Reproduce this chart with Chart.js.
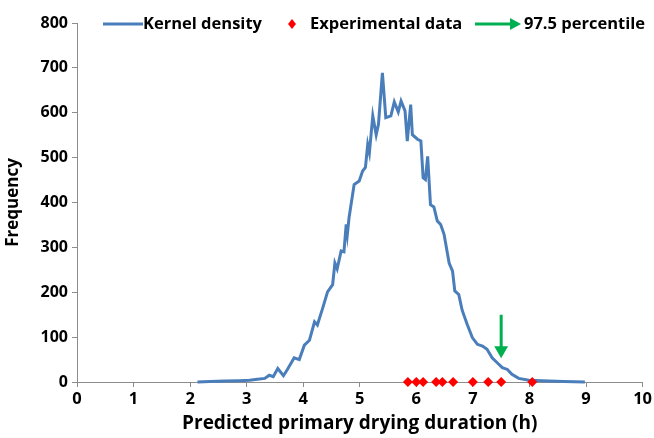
<!DOCTYPE html>
<html>
<head>
<meta charset="utf-8">
<script src="https://cdn.jsdelivr.net/npm/chart.js@4.4.1/dist/chart.umd.min.js"></script>
<style>
  html, body { margin: 0; padding: 0; background: #fff; }
  #wrap { width: 654px; height: 438px; }
</style>
</head>
<body>
<div id="wrap"><canvas id="myChart" width="654" height="438"></canvas></div>
<script>
// kernel density curve (hours, frequency)
const kdeX = [2.13, 2.35, 2.61, 2.87, 3.05, 3.19, 3.32, 3.40, 3.47, 3.55, 3.65, 3.72, 3.84, 3.93, 4.02, 4.11,
  4.20, 4.25, 4.34, 4.43, 4.52, 4.56, 4.60, 4.67, 4.72, 4.76, 4.78, 4.81, 4.90, 4.99, 5.05, 5.10, 5.14, 5.17,
  5.23, 5.29, 5.33, 5.40, 5.46, 5.55, 5.61, 5.68, 5.73, 5.80, 5.84, 5.90, 5.93, 6.02, 6.08, 6.12, 6.16, 6.20,
  6.25, 6.31, 6.37, 6.43, 6.49, 6.58, 6.64, 6.68, 6.75, 6.81, 6.90, 6.99, 7.08, 7.17, 7.25, 7.34, 7.43, 7.52,
  7.61, 7.69, 7.81, 7.99, 8.34, 8.61, 8.98];
const kdeY = [0, 1, 2, 3, 4, 6, 8, 15, 12, 30, 14, 28, 54, 50, 82, 93,
  134, 127, 163, 201, 217, 265, 252, 292, 290, 351, 329, 366, 440, 448, 470, 478, 529, 511,
  593, 551, 574, 689, 589, 593, 624, 602, 626, 604, 537, 618, 551, 541, 537, 455, 451, 503,
  395, 390, 359, 351, 329, 265, 247, 203, 195, 160, 128, 99, 84, 80, 73, 54, 43, 32,
  28, 17, 8, 4, 2, 1, 0];

// experimental data (all plotted at frequency 0)
const expX = [5.85, 6.0, 6.12, 6.35, 6.46, 6.65, 7.0, 7.27, 7.5, 8.05];

// 97.5 percentile arrow
const pctX = 7.5;
const pctArrowY = [150, 71];

const xTicks = [0, 1, 2, 3, 4, 5, 6, 7, 8, 9, 10];
const yTicks = [0, 100, 200, 300, 400, 500, 600, 700, 800];

const blue = '#4a7ebb';
const red = '#ff0000';
const green = '#00b050';
const axisGray = '#8c8c8c';
const fontFam = '"Open Sans", "Liberation Sans", sans-serif';

const legendPlugin = { // legend drawn inside the plot, like the original
  id: 'insideLegend',
  afterDraw(chart) {
    const ctx = chart.ctx;
    const y = 24;
    ctx.save();
    ctx.font = 'bold 16.5px ' + fontFam;
    ctx.fillStyle = '#000';
    ctx.textBaseline = 'middle';
    ctx.textAlign = 'left';
    // kernel density
    ctx.strokeStyle = blue;
    ctx.lineWidth = 3;
    ctx.beginPath(); ctx.moveTo(103, y); ctx.lineTo(143, y); ctx.stroke();
    ctx.fillText('Kernel density', 143, y);
    // experimental data
    ctx.fillStyle = red;
    ctx.beginPath();
    ctx.moveTo(292, y - 5); ctx.lineTo(296, y); ctx.lineTo(292, y + 5); ctx.lineTo(288, y);
    ctx.closePath(); ctx.fill();
    ctx.fillStyle = '#000';
    ctx.fillText('Experimental data', 310, y);
    // percentile arrow
    ctx.strokeStyle = green;
    ctx.fillStyle = green;
    ctx.beginPath(); ctx.moveTo(475, y); ctx.lineTo(512, y); ctx.stroke();
    ctx.beginPath();
    ctx.moveTo(521, y); ctx.lineTo(510, y - 6); ctx.lineTo(510, y + 6);
    ctx.closePath(); ctx.fill();
    ctx.fillStyle = '#000';
    ctx.fillText('97.5 percentile', 524, y);
    ctx.restore();
  }
};

const ctx = document.querySelector('#myChart');

const data = {
  datasets: [
    {
      label: 'Experimental data',
      data: expX.map(x => ({x: x, y: 0})),
      showLine: false,
      pointStyle: 'rectRot',
      pointRadius: 5,
      pointBackgroundColor: red,
      pointBorderWidth: 0,
      clip: false,
      order: 0
    },
    {
      label: '97.5 percentile',
      data: pctArrowY.map(v => ({x: pctX, y: v})),
      showLine: true,
      borderColor: green,
      borderWidth: 3,
      pointStyle: 'triangle',
      pointRotation: 180,
      pointRadius: [0, 8],
      pointBackgroundColor: green,
      pointBorderWidth: 0,
      order: 1
    },
    {
      label: 'Kernel density',
      data: kdeX.map((x, i) => ({x: x, y: kdeY[i]})),
      showLine: true,
      borderColor: blue,
      borderWidth: 3,
      pointRadius: 0,
      tension: 0,
      clip: false,
      order: 2
    }
  ]
};

const config = {
  type: 'scatter',
  data: data,
  options: {
    responsive: false,
    animation: false,
    layout: { padding: { top: 23, right: 10, left: 0, bottom: 0 } },
    plugins: {
      legend: { display: false },
      tooltip: { enabled: false }
    },
    scales: {
      x: {
        type: 'linear',
        min: 0,
        max: 10,
        afterBuildTicks: s => { s.ticks = xTicks.map(v => ({value: v})); },
        afterFit: s => { s.height = 56; },
        grid: { drawOnChartArea: false, drawTicks: true, tickLength: 5, color: axisGray },
        border: { color: axisGray, width: 1 },
        ticks: { color: '#000', font: { family: fontFam, size: 16.5, weight: 'bold' }, padding: 2, maxRotation: 0 },
        title: {
          display: true,
          text: 'Predicted primary drying duration (h)',
          color: '#000',
          font: { family: fontFam, size: 19, weight: 'bold' },
          padding: { top: 0, bottom: 3 }
        }
      },
      y: {
        type: 'linear',
        min: 0,
        max: 800,
        afterBuildTicks: s => { s.ticks = yTicks.map(v => ({value: v})); },
        afterFit: s => { s.width = 77; },
        grid: { drawOnChartArea: false, drawTicks: true, tickLength: 5, color: axisGray },
        border: { color: axisGray, width: 1 },
        ticks: { color: '#000', font: { family: fontFam, size: 16, weight: 'bold' }, padding: 4 },
        title: {
          display: true,
          text: 'Frequency',
          color: '#000',
          font: { family: fontFam, size: 17, weight: 'bold' },
          padding: { top: 3, bottom: 0 }
        }
      }
    }
  },
  plugins: [legendPlugin]
};

new Chart(ctx, config);
</script>
</body>
</html>
